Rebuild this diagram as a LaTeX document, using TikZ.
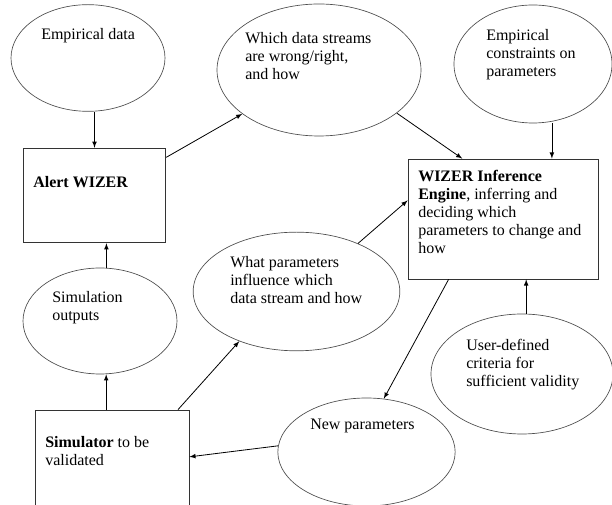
\documentclass[tikz,border=0pt]{standalone}
\usepackage{fontspec}
\setmainfont{Liberation Serif}
\usepackage{tikz}
\usetikzlibrary{shapes.geometric}
\tikzstyle{oval} = [ellipse, draw=black!70, line width=0.5pt, inner sep=0pt]
\tikzstyle{box} = [rectangle, draw=black!80, line width=0.6pt, inner sep=0pt]
\tikzstyle{txt} = [anchor=north west, inner sep=0pt, align=left, font=\fontsize{12}{13.5}\selectfont]
\tikzstyle{arrow} = [line width=0.6pt,->,>=latex]

\begin{document}
\begin{tikzpicture}[x=0.75pt, y=-0.75pt]
    \useasboundingbox (0,0) rectangle (612,505);

    % ovals
    \node (emp) [oval, minimum width=115.5pt, minimum height=80pt] at (88,58) {};
    \node (wrong) [oval, minimum width=153pt, minimum height=99pt] at (319,70) {};
    \node (constr) [oval, minimum width=118.5pt, minimum height=88.5pt] at (533,64) {};
    \node (simout) [oval, minimum width=115.5pt, minimum height=79.5pt] at (100,321) {};
    \node (infl) [oval, minimum width=155pt, minimum height=89pt] at (296.5,291.5) {};
    \node (crit) [oval, minimum width=136.5pt, minimum height=90pt] at (522,374) {};
    \node (newp) [oval, minimum width=133pt, minimum height=81pt] at (366.5,452) {};

    % boxes
    \node (alert) [box, minimum width=107pt, minimum height=71pt] at (94.5,195.5) {};
    \node (engine) [box, minimum width=142.5pt, minimum height=90pt] at (503,219) {};
    \node (sim) [box, minimum width=115.5pt, minimum height=82.5pt] at (112,465) {};

    % texts
    \node (empT) [txt] at (41,28) {Empirical data};
    \node (wrongT) [txt] at (245,32) {Which data streams\\are wrong/right,\\and how};
    \node (constrT) [txt] at (486,29) {Empirical\\constraints on\\parameters};
    \node (alertT) [txt] at (33,176) {\textbf{Alert WIZER}};
    \node (engineT) [txt] at (418,170) {\textbf{WIZER Inference}\\\textbf{Engine}, inferring and\\deciding which\\parameters to change and\\how};
    \node (simoutT) [txt] at (52,291) {Simulation\\outputs};
    \node (inflT) [txt] at (230,256) {What parameters\\influence which\\data stream and how};
    \node (critT) [txt] at (466,339) {User-defined\\criteria for\\sufficient validity};
    \node (newpT) [txt] at (310,419) {New parameters};
    \node (simT) [txt] at (45,436) {\textbf{Simulator} to be\\validated};

    \draw[arrow] (alert.north |- emp.south) -- (alert.north);
    \draw[arrow] (alert.28) -- (wrong);
    \draw[arrow] (wrong.-29) -- (engine.124);
    \draw[arrow] (engine.51 |- constr.south) -- (engine.51);
    \draw[arrow] (simout.north -| alert.-76) -- (alert.-76);
    \draw[arrow] (sim.96) -- (sim.96 |- simout.south);
    \draw[arrow] (sim.40) -- (infl.221);
    \draw[arrow] (infl.38) -- (engine.169);
    \draw[arrow] (crit.north -| engine.-69) -- (engine.-69);
    \draw[arrow] (engine.-132) -- (newp.72);
    \draw[arrow] (newp.176) -- (sim.6);
  \end{tikzpicture}
\end{document}
